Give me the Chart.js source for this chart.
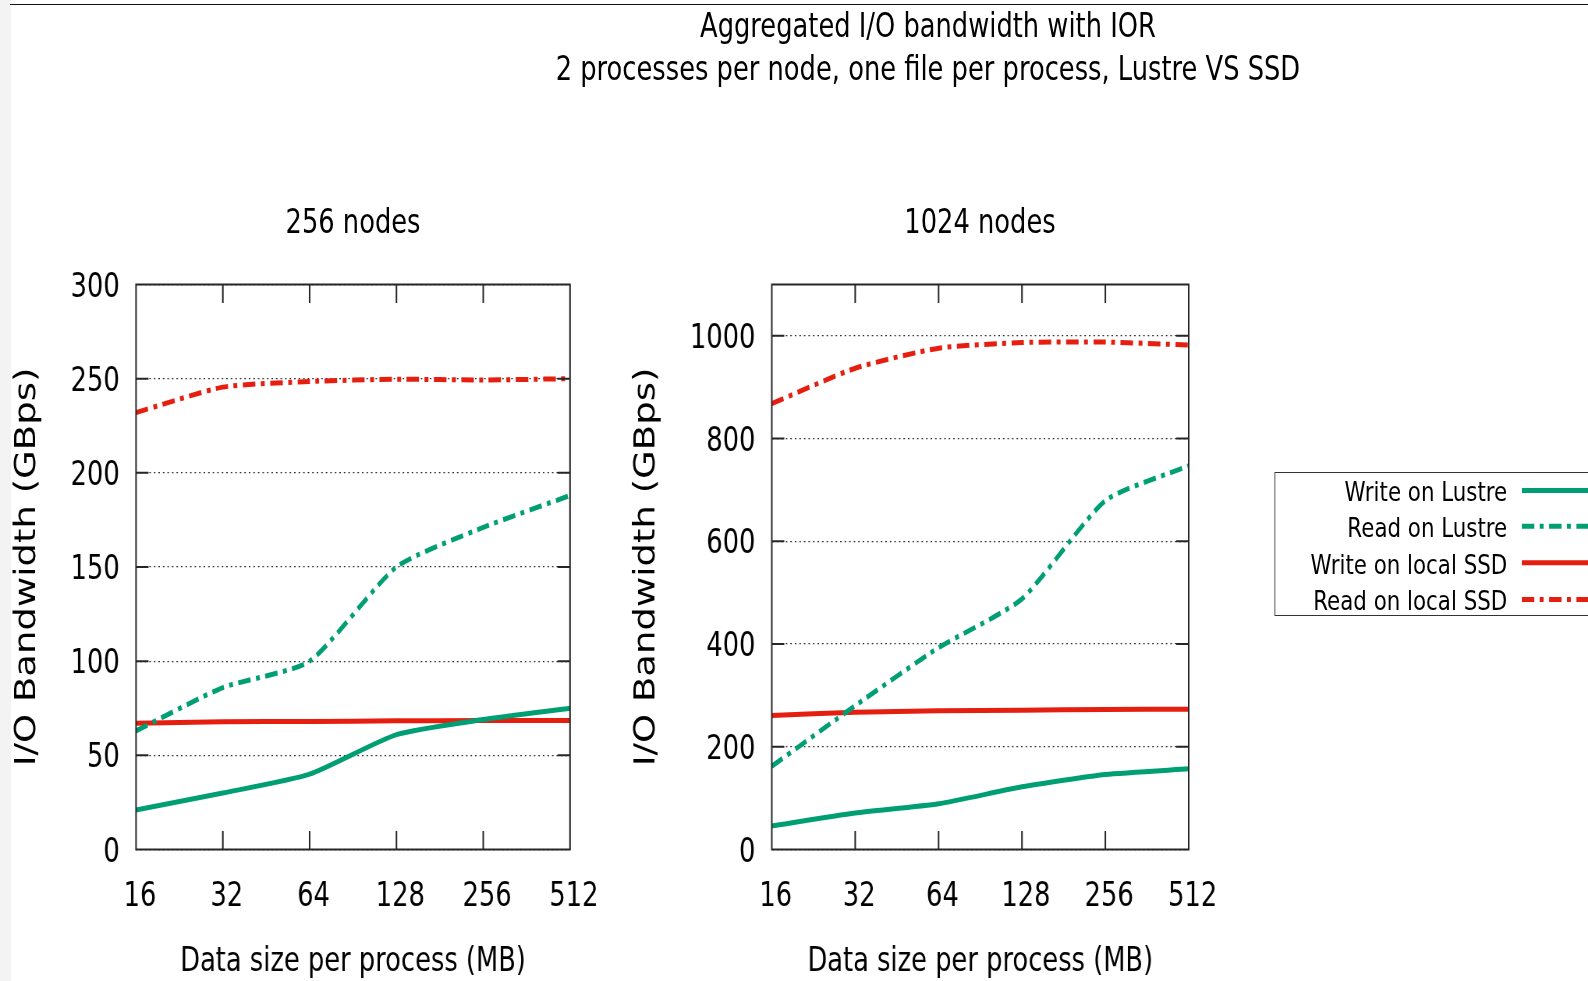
<!DOCTYPE html>
<html>
<head>
<meta charset="utf-8">
<script src="https://cdn.jsdelivr.net/npm/chart.js@4.4.1/dist/chart.umd.min.js"></script>
<style>
  html, body { margin: 0; padding: 0; background: #ffffff; width: 1588px; height: 981px; overflow: hidden; }
  #strip { position: absolute; left: 0; top: 0; width: 11px; height: 981px; background: #f3f3f3; }
  #topline { position: absolute; left: 10px; top: 3.5px; width: 1578px; height: 1.6px; background: #111; }
  #stage { position: absolute; left: 0; top: 0; width: 2035.9px; height: 981px; transform: scaleX(0.78); transform-origin: 0 0; font-family: 'DejaVu Sans', sans-serif; color: #000; }
  #title { position: absolute; left: 589.7px; top: 4.4px; width: 1200px; text-align: center; font-size: 33px; line-height: 43px; white-space: nowrap; }
  .subtitle { position: absolute; top: 201.9px; width: 600px; text-align: center; font-size: 33px; line-height: 40px; white-space: nowrap; }
  .chartbox { position: absolute; top: 150px; width: 820px; height: 831px; }
  #legendBox { position: absolute; left: 1634px; top: 471.5px; width: 500px; height: 144.5px; border: 1.5px solid #333; box-sizing: border-box; }
  .legRow { position: absolute; left: 1582px; width: 350.4px; text-align: right; font-size: 27.4px; line-height: 36.3px; height: 36.3px; white-space: nowrap; }
  #legendLines { position: absolute; left: 1950.9px; top: 471.5px; }
</style>
</head>
<body>
<div id="strip"></div>
<div id="topline"></div>
<div id="stage">
  <div id="title">Aggregated I/O bandwidth with IOR<br>2 processes per node, one file per process, Lustre VS SSD</div>
  <div class="chartbox" style="left:0px"><canvas id="c1"></canvas></div>
  <div class="chartbox" style="left:800px"><canvas id="c2"></canvas></div>
  <div class="subtitle" style="left:152.6px">256 nodes</div>
  <div class="subtitle" style="left:956.4px">1024 nodes</div>
  <div id="legendBox"></div>
  <div id="legendRows"></div>
  <svg id="legendLines" width="120" height="145"></svg>
</div>
<script>
// ---------------- data ----------------
const categories = ['16', '32', '64', '128', '256', '512'];
const seriesNames = ['Write on Lustre', 'Read on Lustre', 'Write on local SSD', 'Read on local SSD'];

const writeLustre256 = [21, 30, 40, 61, 69, 75];
const readLustre256  = [63, 86, 100, 150, 171, 188];
const writeSSD256    = [67, 67.8, 68, 68.3, 68.5, 68.5];
const readSSD256     = [232, 245.5, 248.5, 249.7, 249.3, 250];

const writeLustre1024 = [46, 71, 89, 122, 146, 157];
const readLustre1024  = [162, 280, 393, 488, 679, 747];
const writeSSD1024    = [261, 267, 270, 271, 272.7, 273];
const readSSD1024     = [868, 937, 976, 987, 988, 982];

const yTicks256  = [0, 50, 100, 150, 200, 250, 300];
const yTicks1024 = [0, 200, 400, 600, 800, 1000];
const yMax256 = 300;
const yMax1024 = 1100;

// ---------------- styles ----------------
const GREEN = '#009e73';
const RED = '#e51e10';
const DASHDOT = [16, 7, 5, 7];
const FONT = 'DejaVu Sans';

Chart.defaults.font.family = FONT;
Chart.defaults.color = '#000';

const framePlugin = {
  id: 'frame',
  afterDraw(chart) {
    const { ctx, chartArea: a, scales: { x, y } } = chart;
    ctx.save();
    ctx.setLineDash([]);
    ctx.strokeStyle = '#262626';
    ctx.lineWidth = 2;
    ctx.strokeRect(a.left, a.top, a.right - a.left, a.bottom - a.top);
    ctx.beginPath();
    for (let i = 1; i < x.ticks.length - 1; i++) {
      const px = x.getPixelForTick(i);
      ctx.moveTo(px, a.bottom); ctx.lineTo(px, a.bottom - 18.5);
      ctx.moveTo(px, a.top); ctx.lineTo(px, a.top + 18.5);
    }
    y.ticks.forEach(t => {
      if (t.value === y.min || t.value === y.max) return;
      const py = y.getPixelForValue(t.value);
      ctx.moveTo(a.left, py); ctx.lineTo(a.left + 16, py);
      ctx.moveTo(a.right, py); ctx.lineTo(a.right - 16, py);
    });
    ctx.stroke();
    ctx.restore();
  }
};

function makeDatasets(wl, rl, ws, rs) {
  const common = { pointRadius: 0, borderWidth: 5, fill: false, tension: 0.2 };
  return [
    Object.assign({ label: seriesNames[0], data: wl, borderColor: GREEN }, common),
    Object.assign({ label: seriesNames[1], data: rl, borderColor: GREEN, borderDash: DASHDOT }, common),
    Object.assign({ label: seriesNames[2], data: ws, borderColor: RED }, common),
    Object.assign({ label: seriesNames[3], data: rs, borderColor: RED, borderDash: DASHDOT }, common)
  ];
}

function makeChart(id, datasets, yTicks, yMax, yWidth, rightPad, yTitlePad) {
  return new Chart(document.getElementById(id), {
    type: 'line',
    data: { labels: categories, datasets: datasets },
    plugins: [framePlugin],
    options: {
      responsive: true,
      maintainAspectRatio: false,
      animation: false,
      events: [],
      layout: { padding: { left: 0, right: rightPad, top: 134.5, bottom: 0 } },
      plugins: {
        legend: { display: false },
        tooltip: { enabled: false },
        title: { display: false }
      },
      scales: {
        x: {
          type: 'category',
          offset: false,
          grid: { display: false, drawTicks: false },
          border: { display: false },
          ticks: { autoSkip: false, maxRotation: 0, minRotation: 0, padding: 28, labelOffset: 5,
                   color: '#000', font: { family: FONT, size: 33 } },
          title: { display: true, text: 'Data size per process (MB)', color: '#000',
                   font: { family: FONT, size: 33, lineHeight: 1.1 }, padding: { top: 0, bottom: 0.85 } },
          afterFit: s => { s.height = 131.5; }
        },
        y: {
          type: 'linear',
          min: 0, max: yMax,
          afterBuildTicks: s => { s.ticks = yTicks.map(v => ({ value: v })); },
          grid: { display: true, drawTicks: false, color: '#303030', lineWidth: 1.3 },
          border: { display: false, dash: [2, 3.8] },
          ticks: { padding: 21, labelOffset: 3.5, color: '#000', font: { family: FONT, size: 33 },
                   callback: v => String(v) },
          title: { display: true, text: 'I/O Bandwidth (GBps)', color: '#000',
                   font: { family: FONT, size: 37, lineHeight: 1.2 }, padding: { top: yTitlePad, bottom: 0 } },
          afterFit: s => { s.width = yWidth; }
        }
      }
    }
  });
}

makeChart('c1',
  makeDatasets(writeLustre256, readLustre256, writeSSD256, readSSD256),
  yTicks256, yMax256, 174.4, 89.2, 13.6);

makeChart('c2',
  makeDatasets(writeLustre1024, readLustre1024, writeSSD1024, readSSD1024),
  yTicks1024, yMax1024, 189.5, 96, 7);

// ---------------- legend ----------------
const legendColors = [GREEN, GREEN, RED, RED];
const legendDashed = [false, true, false, true];
const rowCentersY = [18.5, 54.2, 90.8, 127.5];
const rowsDiv = document.getElementById('legendRows');
const svg = document.getElementById('legendLines');
seriesNames.forEach((name, i) => {
  const d = document.createElement('div');
  d.className = 'legRow';
  d.style.top = (471.5 + rowCentersY[i] - 18.15 + 2.5) + 'px';
  d.textContent = name;
  rowsDiv.appendChild(d);
  const ln = document.createElementNS('http://www.w3.org/2000/svg', 'line');
  ln.setAttribute('x1', 0); ln.setAttribute('x2', 120);
  ln.setAttribute('y1', rowCentersY[i]); ln.setAttribute('y2', rowCentersY[i]);
  ln.setAttribute('stroke', legendColors[i]);
  ln.setAttribute('stroke-width', 5);
  if (legendDashed[i]) ln.setAttribute('stroke-dasharray', DASHDOT.join(' '));
  svg.appendChild(ln);
});
</script>
</body>
</html>
